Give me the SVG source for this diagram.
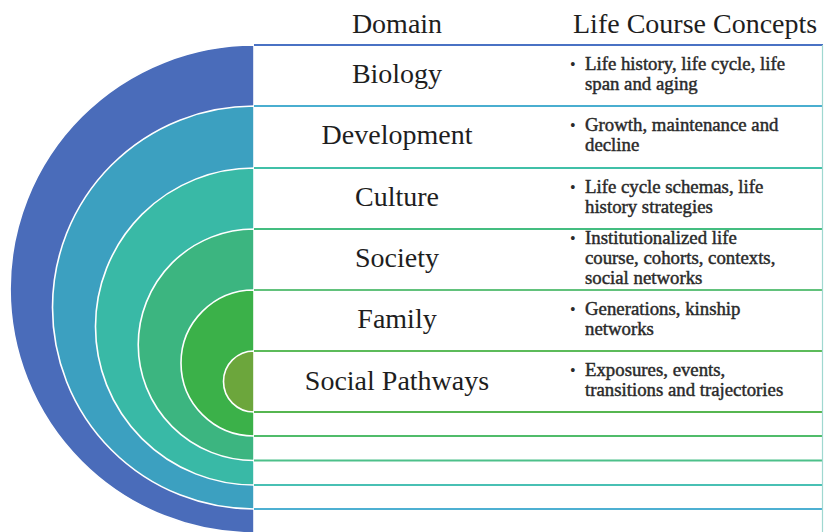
<svg xmlns="http://www.w3.org/2000/svg" width="824" height="532" viewBox="0 0 824 532">
<style>
.ring{stroke:#ffffff;stroke-width:1.6}
.hdr{font-family:"Liberation Serif","Times New Roman",serif;font-size:28px;fill:#1e1e1e}
.dom{font-family:"Liberation Serif","Times New Roman",serif;font-size:28px;fill:#1e1e1e;text-anchor:middle}
.con{font-family:"Liberation Serif","Times New Roman",serif;font-size:18.8px;fill:#2a2a2a;stroke:#2a2a2a;stroke-width:0.45}
.bul{font-family:"Liberation Serif","Times New Roman",serif;font-size:16px;fill:#2a2a2a}
.ln{stroke-width:2;fill:none}
</style>
<rect width="824" height="532" fill="#ffffff"/>
<g id="rings">
<path id="ring-biology" class="ring" fill="#4a6cba" d="M254 45 A244 244 0 0 0 254 533 Z"/>
<path id="ring-development" class="ring" fill="#3ca0c0" d="M254 106 A201.5 201.5 0 0 0 254 509 Z"/>
<path id="ring-culture" class="ring" fill="#39b9a6" d="M254 168 A158.5 158.5 0 0 0 254 485 Z"/>
<path id="ring-society" class="ring" fill="#3cb580" d="M254 229 A115.75 115.75 0 0 0 254 460.5 Z"/>
<path id="ring-family" class="ring" fill="#3bb149" d="M254 290 A73 73 0 0 0 254 436 Z"/>
<path id="ring-pathways" class="ring" fill="#6ca63c" d="M254 351 A30.5 30.5 0 0 0 254 412 Z"/>
</g>
<g id="connectors">
<line class="ln" x1="254" y1="45" x2="823" y2="45" stroke="#4a72c4"/>
<line class="ln" x1="254" y1="106" x2="823" y2="106" stroke="#4aaed0"/>
<line class="ln" x1="254" y1="168" x2="823" y2="168" stroke="#40c0a8"/>
<line class="ln" x1="254" y1="229" x2="823" y2="229" stroke="#44bd80"/>
<line class="ln" x1="254" y1="290" x2="823" y2="290" stroke="#62c27c"/>
<line class="ln" x1="254" y1="351" x2="823" y2="351" stroke="#5cbb5a"/>
<line class="ln" x1="254" y1="412" x2="823" y2="412" stroke="#56b650"/>
<line class="ln" x1="254" y1="436" x2="823" y2="436" stroke="#50bc6a"/>
<line class="ln" x1="254" y1="460.5" x2="823" y2="460.5" stroke="#4cc08a"/>
<line class="ln" x1="254" y1="485" x2="823" y2="485" stroke="#48c0b4"/>
<line class="ln" x1="254" y1="509" x2="823" y2="509" stroke="#4eb0d2"/>
<line x1="822.5" y1="45" x2="822.5" y2="532" stroke="#9fd8d0" stroke-width="1.2"/>
</g>
<g id="headers">
<text class="dom" x="397" y="33">Domain</text>
<text class="hdr" x="573" y="33">Life Course Concepts</text>
</g>
<g id="row-biology">
<text class="dom" x="397" y="83">Biology</text>
<text class="bul" x="570" y="70">•</text>
<text class="con" x="585" y="70">Life history, life cycle, life</text>
<text class="con" x="585" y="90">span and aging</text>
</g>
<g id="row-development">
<text class="dom" x="397" y="144">Development</text>
<text class="bul" x="570" y="131">•</text>
<text class="con" x="585" y="131">Growth, maintenance and</text>
<text class="con" x="585" y="151">decline</text>
</g>
<g id="row-culture">
<text class="dom" x="397" y="206">Culture</text>
<text class="bul" x="570" y="193">•</text>
<text class="con" x="585" y="193">Life cycle schemas, life</text>
<text class="con" x="585" y="213">history strategies</text>
</g>
<g id="row-society">
<text class="dom" x="397" y="267">Society</text>
<text class="bul" x="570" y="244">•</text>
<text class="con" x="585" y="244">Institutionalized life</text>
<text class="con" x="585" y="264">course, cohorts, contexts,</text>
<text class="con" x="585" y="284">social networks</text>
</g>
<g id="row-family">
<text class="dom" x="397" y="328">Family</text>
<text class="bul" x="570" y="315">•</text>
<text class="con" x="585" y="315">Generations, kinship</text>
<text class="con" x="585" y="335">networks</text>
</g>
<g id="row-pathways">
<text class="dom" x="397" y="390">Social Pathways</text>
<text class="bul" x="570" y="376">•</text>
<text class="con" x="585" y="376">Exposures, events,</text>
<text class="con" x="585" y="396">transitions and trajectories</text>
</g>
</svg>
